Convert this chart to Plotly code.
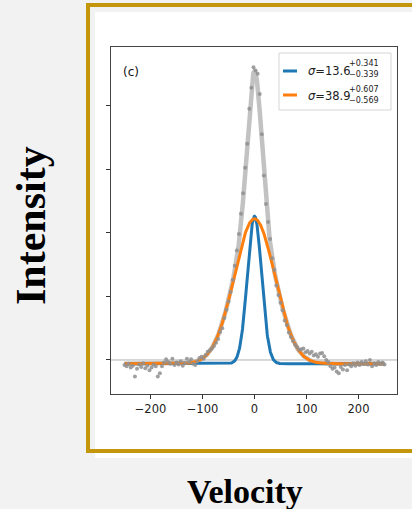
import numpy as np
import plotly.graph_objects as go

# ---- data ----
velocity_start, velocity_stop, velocity_step = -250, 250, 4
intensity = [
    -0.08, -0.10, -0.06, -0.12, -0.09, -0.26, -0.14, -0.07, -0.11, -0.05,
    -0.13, -0.09, -0.16, -0.12, -0.07, -0.10, -0.26, -0.21, -0.10, -0.04,
    0.01, -0.03, -0.06, 0.02, -0.08, -0.04, -0.07, -0.02, -0.09, -0.05,
    0.02, -0.03, 0.01, -0.06, -0.08, -0.02,
    0.03, 0.05, 0.02, 0.08, 0.13, 0.15, 0.18, 0.22, 0.27, 0.33,
    0.44, 0.50, 0.66, 0.79, 0.92, 1.07, 1.26, 1.48, 1.72, 1.98,
    2.30, 2.62, 3.02, 3.40, 3.95, 4.28, 4.60,
    4.55, 4.50, 4.18, 3.55, 2.90, 2.45, 2.17, 1.90, 1.60, 1.42,
    1.17, 1.02, 0.90, 0.78, 0.62, 0.55, 0.43, 0.36, 0.30, 0.24,
    0.20, 0.16, 0.17, 0.18, 0.12, 0.14, 0.10, 0.13, 0.07, 0.09,
    0.05, 0.10, 0.11, 0.06, 0.00, -0.03, -0.10, -0.14, -0.12, -0.18,
    -0.21, -0.11, -0.15, -0.08, -0.16, -0.07, -0.10, -0.05, -0.09, -0.04,
    -0.08, -0.03, -0.06, -0.02, -0.07, 0.00, -0.10, -0.05, -0.08, -0.03,
    -0.06, -0.04, -0.07,
]
velocity = np.arange(velocity_start, velocity_stop + 1, velocity_step)

# fitted gaussian components (amplitude, sigma) and common baseline
baseline = -0.06
narrow_amp, narrow_sigma = 2.32, 13.6
broad_amp, broad_sigma = 2.28, 38.9
legend_labels = ["σ=13.6", "σ=38.9"]
legend_sup = ["+0.341", "+0.607"]
legend_sub = ["−0.339", "−0.569"]
x_ticks = [-200, -100, 0, 100, 200]
x_ticktext = ["−200", "−100", "0", "100", "200"]
y_ticks = [0, 1, 2, 3, 4]

vfine = np.linspace(velocity_start, velocity_stop, 1001)
g_narrow = narrow_amp * np.exp(-vfine**2 / (2 * narrow_sigma**2))
g_broad = broad_amp * np.exp(-vfine**2 / (2 * broad_sigma**2))

BLUE = "#1f77b4"
ORANGE = "#ff7f0e"

fig = go.Figure()
fig.add_trace(go.Scatter(x=vfine, y=baseline + g_narrow + g_broad, mode="lines",
                         line=dict(color="#c2c2c2", width=4.5), hoverinfo="skip"))
fig.add_trace(go.Scatter(x=vfine, y=baseline + g_narrow, mode="lines",
                         line=dict(color=BLUE, width=3), name=legend_labels[0]))
fig.add_trace(go.Scatter(x=vfine, y=baseline + g_broad, mode="lines",
                         line=dict(color=ORANGE, width=3), name=legend_labels[1]))
fig.add_trace(go.Scatter(x=velocity, y=intensity, mode="markers",
                         marker=dict(color="#8f8f8f", size=4, opacity=0.85),
                         name="data"))

# paper-coordinate helpers for the 412x509 canvas (plot area 111..397 x 47..394)
L, T, R, B = 111, 47, 397, 394
def px(xp):
    return (xp - L) / (R - L)
def py(yp):
    return (B - yp) / (B - T)

shapes = [
    # white card
    dict(type="rect", xref="paper", yref="paper", x0=px(95), x1=px(416), y0=py(458), y1=py(12),
         fillcolor="white", line=dict(width=0), layer="below"),
    # gold frame
    dict(type="rect", xref="paper", yref="paper", x0=px(88), x1=px(430), y0=py(451), y1=py(5),
         fillcolor="rgba(0,0,0,0)", line=dict(color="#c4960c", width=4), layer="below"),
    # zero line
    dict(type="line", xref="x domain", yref="y", x0=0, x1=1, y0=0, y1=0,
         line=dict(color="#b0b0b0", width=1), layer="below"),
    # legend box
    dict(type="rect", xref="paper", yref="paper", x0=px(279), x1=px(391), y0=py(110), y1=py(53),
         fillcolor="rgba(255,255,255,0.85)", line=dict(color="#d5d5d5", width=1), layer="above"),
    dict(type="line", xref="paper", yref="paper", x0=px(283), x1=px(297), y0=py(71), y1=py(71),
         line=dict(color=BLUE, width=3), layer="above"),
    dict(type="line", xref="paper", yref="paper", x0=px(283), x1=px(297), y0=py(95), y1=py(95),
         line=dict(color=ORANGE, width=3), layer="above"),
]

ann = [
    dict(text="(c)", x=px(121), y=py(72), xanchor="left", yanchor="middle",
         font=dict(family="DejaVu Sans", size=12, color="#111")),
    dict(text="Intensity", x=px(31), y=py(226), textangle=-90, xanchor="center", yanchor="middle",
         font=dict(family="Liberation Serif", size=42, color="#000", weight="bold")),
    dict(text="Velocity", x=px(245), y=py(491), xanchor="center", yanchor="middle",
         font=dict(family="Liberation Serif", size=34, color="#000", weight="bold")),
]
rows = [(71, 64, 74.5), (96, 90, 100.5)]
for i, (ymain, ysup, ysub) in enumerate(rows):
    ann.append(dict(text=legend_labels[i].replace("σ", "<i>σ</i>"), x=px(306), y=py(ymain),
                    xanchor="left", yanchor="middle",
                    font=dict(family="DejaVu Sans", size=11.5, color="#222")))
    ann.append(dict(text=legend_sup[i], x=px(347), y=py(ysup), xanchor="left", yanchor="middle",
                    font=dict(family="DejaVu Sans", size=8, color="#222")))
    ann.append(dict(text=legend_sub[i], x=px(347), y=py(ysub), xanchor="left", yanchor="middle",
                    font=dict(family="DejaVu Sans", size=8, color="#222")))
for a in ann:
    a.update(xref="paper", yref="paper", showarrow=False)

fig.update_layout(
    width=412, height=509,
    margin=dict(l=L, r=412 - R, t=T, b=509 - B, pad=0),
    paper_bgcolor="#f2f2f2", plot_bgcolor="white",
    showlegend=False,
    shapes=shapes, annotations=ann,
    xaxis=dict(range=[-276, 274], tickvals=x_ticks, ticktext=x_ticktext,
               ticks="outside", ticklen=4, tickcolor="#333", showgrid=False, zeroline=False,
               showline=True, linecolor="#444", linewidth=1, mirror=True,
               tickfont=dict(family="DejaVu Sans", size=11.5, color="#222")),
    yaxis=dict(range=[-0.535, 4.92], tickvals=y_ticks, showticklabels=False,
               ticks="outside", ticklen=4, tickcolor="#333", showgrid=False, zeroline=False,
               showline=True, linecolor="#444", linewidth=1, mirror=True),
)

fig.write_html(
    "out.html",
    config={"displayModeBar": False},
    post_script="document.body.style.margin='0';document.body.style.background='#f2f2f2';",
)
